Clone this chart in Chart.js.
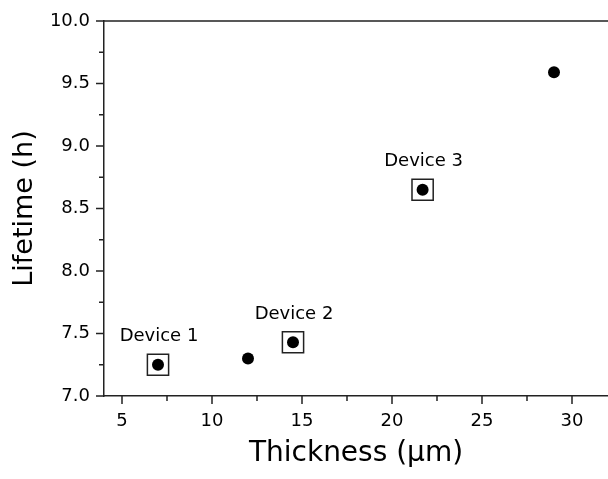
<!DOCTYPE html>
<html>
<head>
<meta charset="utf-8">
<script src="https://cdn.jsdelivr.net/npm/chart.js@4.4.1/dist/chart.umd.min.js"></script>
<style>
  html, body { margin: 0; padding: 0; overflow: hidden; background: #fff; }
  #wrap { width: 608px; height: 479px; position: relative; }
</style>
</head>
<body>
<div id="wrap"><canvas id="myChart"></canvas></div>
<script>
// data
const thickness = [7, 12, 14.5, 21.7, 29];
const lifetime = [7.25, 7.30, 7.43, 8.65, 9.59];
const deviceNames = ['Device 1', null, 'Device 2', 'Device 3', null];

const xTicks = [5, 10, 15, 20, 25, 30];
const xMinorTicks = [7.5, 12.5, 17.5, 22.5, 27.5];
const yTicks = [7.0, 7.5, 8.0, 8.5, 9.0, 9.5, 10.0];
const yMinorTicks = [7.25, 7.75, 8.25, 8.75, 9.25, 9.75];

const FONT = 'DejaVu Sans';
const INK = '#222';

const points = thickness.map((x, i) => ({ x: x, y: lifetime[i] }));
const boxed = points.filter((p, i) => deviceNames[i]);

// tick marks, top frame line and device labels
const decorations = {
  id: 'decorations',
  afterDraw(chart) {
    const ctx = chart.ctx;
    const xs = chart.scales.x, ys = chart.scales.y;
    const a = chart.chartArea;
    ctx.save();
    ctx.strokeStyle = INK;
    ctx.lineWidth = 1.5;
    ctx.beginPath();
    xTicks.forEach(v => { const px = xs.getPixelForValue(v); ctx.moveTo(px, a.bottom); ctx.lineTo(px, a.bottom + 8); });
    xMinorTicks.forEach(v => { const px = xs.getPixelForValue(v); ctx.moveTo(px, a.bottom); ctx.lineTo(px, a.bottom + 5); });
    yTicks.forEach(v => { const py = ys.getPixelForValue(v); ctx.moveTo(a.left, py); ctx.lineTo(a.left - 8, py); });
    yMinorTicks.forEach(v => { const py = ys.getPixelForValue(v); ctx.moveTo(a.left, py); ctx.lineTo(a.left - 5, py); });
    // top frame
    ctx.moveTo(a.left, a.top);
    ctx.lineTo(a.right, a.top);
    ctx.stroke();

    ctx.fillStyle = '#000';
    ctx.font = '18px "' + FONT + '"';
    ctx.textAlign = 'center';
    ctx.textBaseline = 'middle';
    thickness.forEach((x, i) => {
      if (!deviceNames[i]) return;
      const px = xs.getPixelForValue(x);
      const py = ys.getPixelForValue(lifetime[i]);
      ctx.fillText(deviceNames[i], px + 1, py - 28);
    });
    ctx.restore();
  }
};

new Chart(document.getElementById('myChart'), {
  type: 'scatter',
  data: {
    datasets: [
      {
        label: 'Lifetime',
        data: points,
        pointRadius: 6,
        pointHoverRadius: 6,
        backgroundColor: '#000',
        borderColor: '#000',
        borderWidth: 0
      },
      {
        label: 'Devices',
        data: boxed,
        pointStyle: 'rect',
        pointRadius: 15,
        pointHoverRadius: 15,
        backgroundColor: 'rgba(0,0,0,0)',
        borderColor: INK,
        borderWidth: 1.5
      }
    ]
  },
  options: {
    responsive: true,
    maintainAspectRatio: false,
    animation: false,
    layout: { autoPadding: false, padding: { top: 21, right: 0, left: 0, bottom: 0 } },
    plugins: {
      legend: { display: false },
      tooltip: { enabled: false }
    },
    scales: {
      x: {
        type: 'linear',
        min: 4,
        max: 32,
        afterBuildTicks: s => { s.ticks = xTicks.map(v => ({ value: v })); },
        afterFit: s => { s.height = 83; s.paddingLeft = 0; s.paddingRight = 0; },
        grid: { drawOnChartArea: false, drawTicks: false },
        border: { display: true, color: INK, width: 1.5 },
        ticks: { color: '#000', padding: 15, font: { family: FONT, size: 18 } },
        title: {
          display: true,
          text: 'Thickness (\u03bcm)',
          color: '#000',
          font: { family: FONT, size: 28 },
          padding: { top: 0, bottom: 8 }
        }
      },
      y: {
        type: 'linear',
        min: 7,
        max: 10,
        afterBuildTicks: s => { s.ticks = yTicks.map(v => ({ value: v })); },
        afterFit: s => { s.width = 104; s.paddingTop = 0; s.paddingBottom = 0; },
        grid: { drawOnChartArea: false, drawTicks: false },
        border: { display: true, color: INK, width: 1.5 },
        ticks: {
          color: '#000',
          padding: 14,
          font: { family: FONT, size: 18 },
          callback: v => Number(v).toFixed(1)
        },
        title: {
          display: true,
          text: 'Lifetime (h)',
          color: '#000',
          font: { family: FONT, size: 27 },
          padding: { top: 9, bottom: 0 }
        }
      }
    }
  },
  plugins: [decorations]
});
</script>
</body>
</html>
